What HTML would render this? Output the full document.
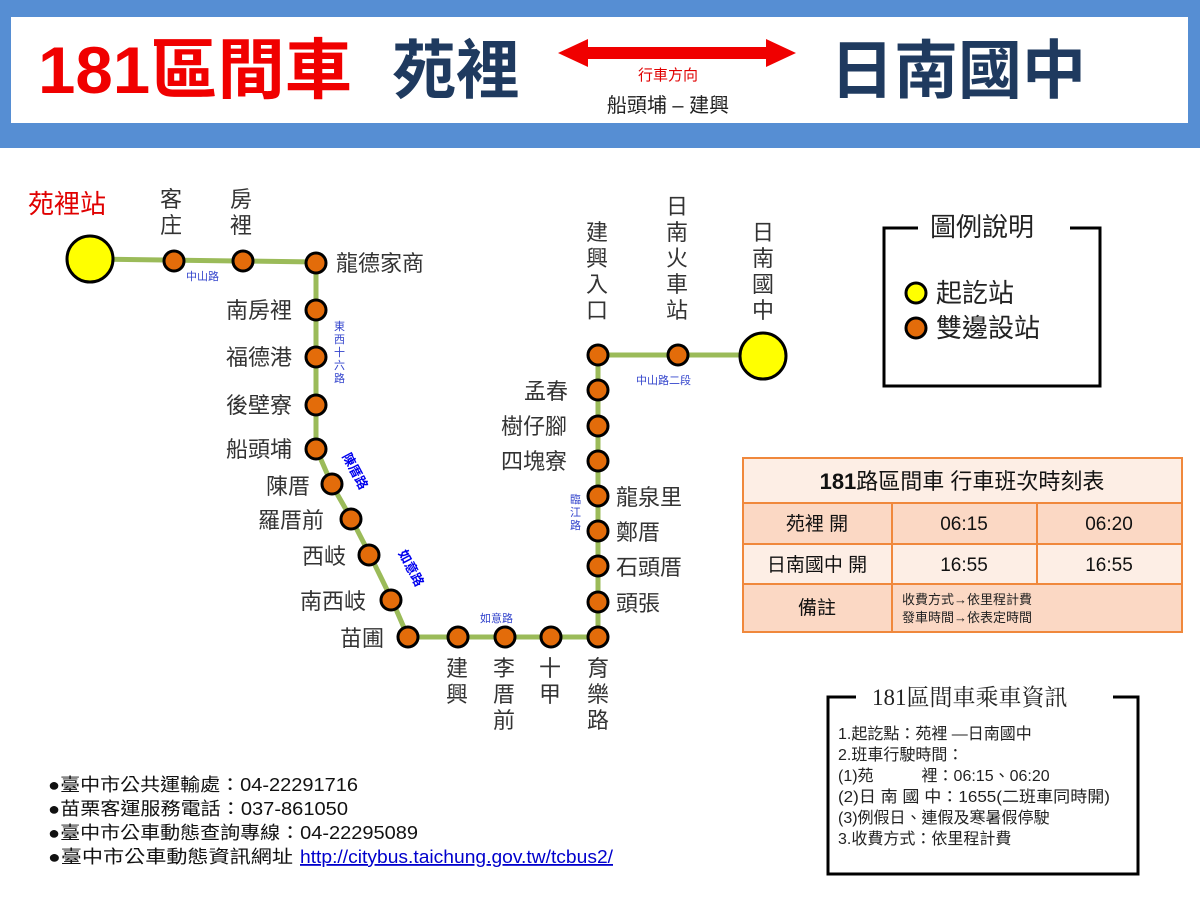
<!DOCTYPE html>
<html><head><meta charset="utf-8"><style>
body{margin:0;background:#fff}
svg text{font-family:"Liberation Sans","Noto Sans CJK TC",sans-serif}
.s{font-family:"Liberation Serif","Noto Serif CJK SC",serif}
</style></head><body>
<svg width="1200" height="900" viewBox="0 0 1200 900" xmlns="http://www.w3.org/2000/svg">
<rect x="0" y="0" width="1200" height="148" fill="#568ed3"/>
<rect x="11" y="17" width="1177" height="106" fill="#fff"/>
<text x="38" y="93" font-size="66" font-weight="bold" fill="#f00000" textLength="314" lengthAdjust="spacingAndGlyphs">181區間車</text>
<text x="392" y="93" font-size="64" font-weight="bold" fill="#1f3a5f">苑裡</text>
<text x="830" y="93" font-size="64" font-weight="bold" fill="#1f3a5f">日南國中</text>
<polygon points="558,53 588,39 588,47 766,47 766,39 796,53 766,67 766,59 588,59 588,67" fill="#f00000"/>
<text x="668" y="80" font-size="15" fill="#e00000" text-anchor="middle">行車方向</text>
<text x="668" y="112" font-size="20" fill="#222" text-anchor="middle">船頭埔 – 建興</text>

<g stroke="#9bbb59" stroke-width="5" fill="none">
<polyline points="90,259 316,262 316,448 332,485 352,520 370,555 392,600 408,637 598,637 598,355 765,355"/>
</g>
<circle cx="90" cy="259" r="23" fill="#ffff00" stroke="#000" stroke-width="3"/>
<circle cx="763" cy="356" r="23" fill="#ffff00" stroke="#000" stroke-width="3"/>
<g fill="#e36c0a" stroke="#000" stroke-width="3">
<circle cx="174" cy="261" r="10"/><circle cx="243" cy="261" r="10"/><circle cx="316" cy="263" r="10"/>
<circle cx="316" cy="310" r="10"/><circle cx="316" cy="357" r="10"/><circle cx="316" cy="405" r="10"/>
<circle cx="316" cy="449" r="10"/><circle cx="332" cy="484" r="10"/><circle cx="351" cy="519" r="10"/>
<circle cx="369" cy="555" r="10"/><circle cx="391" cy="600" r="10"/>
<circle cx="408" cy="637" r="10"/><circle cx="458" cy="637" r="10"/><circle cx="505" cy="637" r="10"/>
<circle cx="551" cy="637" r="10"/><circle cx="598" cy="637" r="10"/>
<circle cx="598" cy="602" r="10"/><circle cx="598" cy="566" r="10"/><circle cx="598" cy="531" r="10"/>
<circle cx="598" cy="496" r="10"/><circle cx="598" cy="461" r="10"/><circle cx="598" cy="426" r="10"/>
<circle cx="598" cy="390" r="10"/><circle cx="598" cy="355" r="10"/><circle cx="678" cy="355" r="10"/>
</g>
<g font-size="22" fill="#333">
<text x="28" y="213" fill="#e00000" font-size="26">苑裡站</text>
<text x="160" y="207">客</text><text x="160" y="233">庄</text>
<text x="230" y="207">房</text><text x="230" y="233">裡</text>
<text x="336" y="271">龍德家商</text>
<text x="226" y="318">南房裡</text><text x="226" y="365">福德港</text><text x="226" y="413">後壁寮</text>
<text x="226" y="457">船頭埔</text><text x="266" y="494">陳厝</text><text x="258" y="528">羅厝前</text>
<text x="302" y="564">西岐</text><text x="300" y="609">南西岐</text><text x="340" y="646">苗圃</text>
<text x="446" y="676">建</text><text x="446" y="702">興</text>
<text x="493" y="676">李</text><text x="493" y="702">厝</text><text x="493" y="728">前</text>
<text x="539" y="676">十</text><text x="539" y="702">甲</text>
<text x="587" y="676">育</text><text x="587" y="702">樂</text><text x="587" y="728">路</text>
<text x="616" y="611">頭張</text><text x="616" y="575">石頭厝</text><text x="616" y="540">鄭厝</text><text x="616" y="505">龍泉里</text>
<text x="501" y="469">四塊寮</text><text x="501" y="434">樹仔腳</text><text x="524" y="399">孟春</text>
<text x="586" y="240">建</text><text x="586" y="266">興</text><text x="586" y="292">入</text><text x="586" y="318">口</text>
<text x="666" y="214">日</text><text x="666" y="240">南</text><text x="666" y="266">火</text><text x="666" y="292">車</text><text x="666" y="318">站</text>
<text x="752" y="240">日</text><text x="752" y="266">南</text><text x="752" y="292">國</text><text x="752" y="318">中</text>
</g>
<g font-size="11" fill="#3344cc">
<text x="186" y="280">中山路</text>
<text x="334" y="330">東</text><text x="334" y="343">西</text><text x="334" y="356">十</text><text x="334" y="369">六</text><text x="334" y="382">路</text>
<text x="480" y="622">如意路</text>
<text x="570" y="503">臨</text><text x="570" y="516">江</text><text x="570" y="529">路</text>
<text x="636" y="384">中山路二段</text>
</g>
<g font-size="13" font-weight="bold" fill="#0000ee">
<text transform="translate(342,456) rotate(62)">陳厝路</text>
<text transform="translate(398,553) rotate(62)">如意路</text>
</g>

<path d="M918,228 H884 V386 H1100 V228 H1070" fill="none" stroke="#000" stroke-width="3"/>
<text x="930" y="236" font-size="26" fill="#222">圖例說明</text>
<circle cx="916" cy="293" r="10" fill="#ffff00" stroke="#000" stroke-width="3"/>
<text x="936" y="302" font-size="26" fill="#222">起訖站</text>
<circle cx="916" cy="328" r="10" fill="#e36c0a" stroke="#000" stroke-width="3"/>
<text x="936" y="337" font-size="26" fill="#222">雙邊設站</text>

<g stroke="#f0883c" stroke-width="2">
<rect x="743" y="458" width="439" height="45" fill="#fdeee5"/>
<rect x="743" y="503" width="149" height="41" fill="#fbd8c4"/>
<rect x="892" y="503" width="145" height="41" fill="#fbd8c4"/>
<rect x="1037" y="503" width="145" height="41" fill="#fbd8c4"/>
<rect x="743" y="544" width="149" height="40" fill="#fdeee5"/>
<rect x="892" y="544" width="145" height="40" fill="#fdeee5"/>
<rect x="1037" y="544" width="145" height="40" fill="#fdeee5"/>
<rect x="743" y="584" width="149" height="48" fill="#fbd8c4"/>
<rect x="892" y="584" width="290" height="48" fill="#fbd8c4"/>
</g>
<text x="962" y="489" font-size="22" fill="#111" text-anchor="middle"><tspan font-weight="bold">181</tspan>路區間車  行車班次時刻表</text>
<g font-size="19" fill="#111" text-anchor="middle">
<text x="817" y="530">苑裡  開</text><text x="964" y="530">06:15</text><text x="1109" y="530">06:20</text>
<text x="817" y="571">日南國中  開</text><text x="964" y="571">16:55</text><text x="1109" y="571">16:55</text>
<text x="817" y="614">備註</text>
</g>
<text x="902" y="604" font-size="13" fill="#222">收費方式→依里程計費</text>
<text x="902" y="622" font-size="13" fill="#222">發車時間→依表定時間</text>

<path d="M856,697 H828 V874 H1138 V697 H1113" fill="none" stroke="#000" stroke-width="3"/>
<text x="872" y="705" class="s" font-size="23" fill="#222">181區間車乘車資訊</text>
<g class="s" font-size="16" fill="#222">
<text x="838" y="739">1.起訖點：苑裡 —日南國中</text>
<text x="838" y="760">2.班車行駛時間：</text>
<text x="838" y="781">(1)苑　　　裡：06:15、06:20</text>
<text x="838" y="802" textLength="272" lengthAdjust="spacingAndGlyphs">(2)日 南 國 中：1655(二班車同時開)</text>
<text x="838" y="823">(3)例假日、連假及寒暑假停駛</text>
<text x="838" y="844">3.收費方式：依里程計費</text>
</g>

<g font-size="18" fill="#111">
<text x="48" y="791" textLength="310" lengthAdjust="spacingAndGlyphs">●臺中市公共運輸處：04-22291716</text>
<text x="48" y="815" textLength="300" lengthAdjust="spacingAndGlyphs">●苗栗客運服務電話：037-861050</text>
<text x="48" y="839" textLength="370" lengthAdjust="spacingAndGlyphs">●臺中市公車動態查詢專線：04-22295089</text>
<text x="48" y="863" textLength="245" lengthAdjust="spacingAndGlyphs">●臺中市公車動態資訊網址</text>
<text x="300" y="863" fill="#0000cc" text-decoration="underline" textLength="313" lengthAdjust="spacingAndGlyphs">http://citybus.taichung.gov.tw/tcbus2/</text>
</g>
</svg>
</body></html>
